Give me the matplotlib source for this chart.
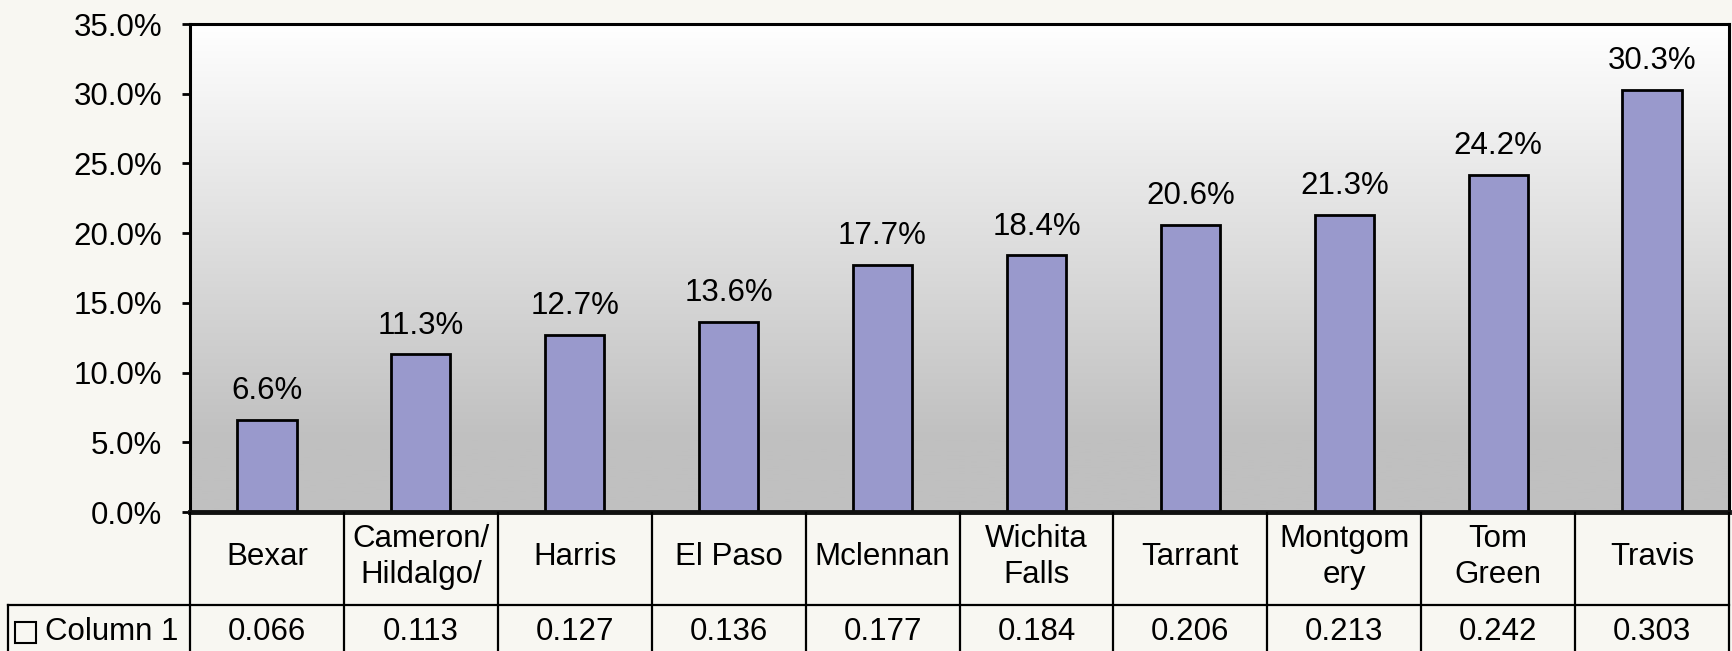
import numpy as np
import matplotlib.pyplot as plt
from matplotlib.colors import LinearSegmentedColormap
from matplotlib.patches import Rectangle
from matplotlib.ticker import FuncFormatter

plt.rcParams['font.family'] = ['Liberation Sans', 'DejaVu Sans']
plt.rcParams['font.size'] = 22.5

# data
counties = ['Bexar', 'Cameron/\nHildalgo/', 'Harris', 'El Paso', 'Mclennan',
            'Wichita\nFalls', 'Tarrant', 'Montgom\nery', 'Tom\nGreen', 'Travis']
values = [0.066, 0.113, 0.127, 0.136, 0.177, 0.184, 0.206, 0.213, 0.242, 0.303]
series_name = 'Column 1'
yticks = [0.0, 0.05, 0.10, 0.15, 0.20, 0.25, 0.30, 0.35]

W, H = 1732, 651
bg = '#f8f7f2'
bar_col = '#9999cc'

fig = plt.figure(figsize=(W / 100, H / 100), dpi=100, facecolor=bg)

# plot area in pixel terms
left, right, top, bottom = 190, 1729, 24, 512
ax = fig.add_axes([left / W, 1 - bottom / H, (right - left) / W, (bottom - top) / H])

n = len(values)
x = np.arange(n) + 0.5
ax.set_xlim(0, n)
ax.set_ylim(0, 0.35)

# white -> grey gradient behind the bars
grad_cmap = LinearSegmentedColormap.from_list(
    'g', [(0, '#c0c0c0'), (0.15, '#c0c0c0'), (1.0, '#ffffff')])
grad = np.linspace(0, 1, 256).reshape(-1, 1)
ax.imshow(grad, extent=[0, n, 0, 0.35], origin='lower', aspect='auto',
          cmap=grad_cmap, zorder=0)

ax.bar(x, values, width=0.385, color=bar_col, edgecolor='black', linewidth=2, zorder=2)

for xi, v in zip(x, values):
    ax.annotate('{:.1%}'.format(v), (xi, v), xytext=(0, 10), textcoords='offset points',
                ha='center', va='bottom')

ax.set_yticks(yticks)
ax.yaxis.set_major_formatter(FuncFormatter(lambda v, p: '{:.1%}'.format(v)))
ax.tick_params(axis='y', direction='out', length=6, width=2, pad=14)
ax.set_xticks([])
for s in ax.spines.values():
    s.set_linewidth(2.2)
    s.set_color('black')
ax.spines['bottom'].set_linewidth(3.5)
ax.spines['bottom'].set_color('#111111')

# data table under the axis, drawn on a figure-wide overlay in pixel coords
tax = fig.add_axes([0, 0, 1, 1])
tax.set_xlim(0, W)
tax.set_ylim(H, 0)
tax.axis('off')

colw = (right - left) / n
row1_top, row2_top, row_bot = 513, 605, 652
lw = 1.6
for k in range(n + 1):
    xx = left + k * colw
    tax.plot([xx, xx], [row1_top, row_bot], color='black', lw=lw)
tax.plot([8, right], [row2_top, row2_top], color='black', lw=lw)
tax.plot([8, 8], [row2_top, row_bot], color='black', lw=lw)

for i, (name, v) in enumerate(zip(counties, values)):
    cx = left + (i + 0.5) * colw
    tax.text(cx, 557, name, ha='center', va='center', linespacing=1.3)
    tax.text(cx, 632, '{:.3f}'.format(v), ha='center', va='center')

tax.add_patch(Rectangle((15, 622), 21, 21, facecolor='none', edgecolor='black', lw=1.5))
tax.text(45, 632, series_name, ha='left', va='center')

fig.savefig('out.png', dpi=100, facecolor=bg)
